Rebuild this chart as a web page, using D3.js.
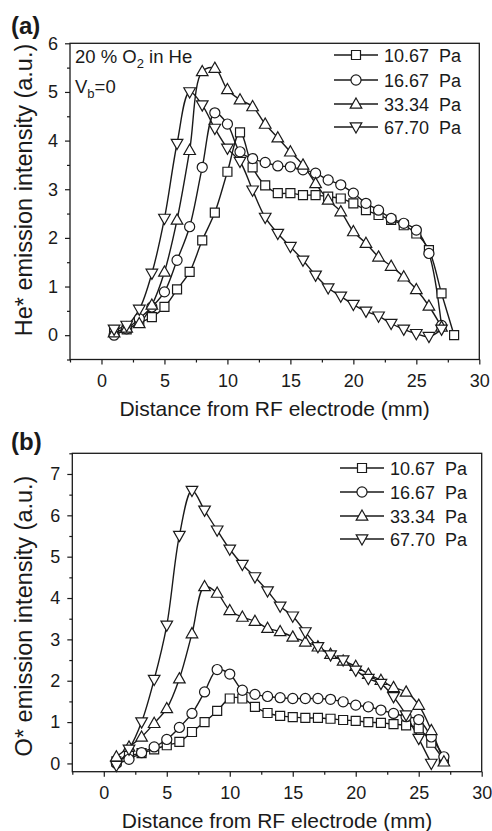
<!DOCTYPE html>
<html><head><meta charset="utf-8">
<script src="https://cdn.jsdelivr.net/npm/d3@7"></script>
<style>
body{margin:0;background:#fff;}
svg{display:block;font-family:"Liberation Sans",Arial,Helvetica,sans-serif;}
</style></head>
<body><svg id="c" width="492" height="831"></svg>
<script>
// ---------- data ----------
const seriesNames = ["10.67  Pa","16.67  Pa","33.34  Pa","67.70  Pa"];
const seriesSymbols = ["square","circle","up","down"];
const xTicks = [0,5,10,15,20,25,30];

// Panel (a): He* emission intensity
const aX_1067 = [1,2,3,4,5,6,7,8,9,10,11,12,13,14,15,16,17,18,19,20,21,22,23,24,25,26,27,28];
const aY_1067 = [0.08,0.12,0.25,0.37,0.58,0.94,1.3,1.95,2.52,3.36,4.17,3.45,3.08,2.92,2.92,2.88,2.88,2.85,2.81,2.71,2.57,2.47,2.37,2.26,2.09,1.75,0.86,0.0];
const aX_1667 = [1,2,3,4,5,6,7,8,9,10,11,12,13,14,15,16,17,18,19,20,21,22,23,24,25,26,27];
const aY_1667 = [0.0,0.13,0.34,0.58,0.89,1.54,2.23,3.45,4.57,4.34,3.77,3.63,3.55,3.48,3.46,3.4,3.33,3.19,3.09,2.92,2.71,2.57,2.4,2.3,2.16,1.68,0.2];
const aX_3334 = [1,2,3,4,5,6,7,8,9,10,11,12,13,14,15,16,17,18,19,20,21,22,23,24,25,26,27];
const aY_3334 = [0.05,0.15,0.24,0.62,1.3,2.37,3.8,5.42,5.49,5.05,4.84,4.7,4.34,4.06,3.77,3.5,3.12,2.78,2.54,2.13,1.89,1.61,1.42,1.2,0.94,0.6,0.17];
const aX_6770 = [1,2,3,4,5,6,7,8,9,10,11,12,13,14,15,16,17,18,19,20,21,22,23,24,25,26,27];
const aY_6770 = [0.12,0.2,0.53,1.27,2.4,3.94,5.0,4.73,4.25,3.84,3.57,2.98,2.42,2.09,1.82,1.54,1.23,0.97,0.8,0.63,0.49,0.39,0.24,0.12,0.03,-0.03,0.12];
const aYTicks = [0,1,2,3,4,5,6];

// Panel (b): O* emission intensity
const bX_1067 = [1,2,3,4,5,6,7,8,9,10,11,12,13,14,15,16,17,18,19,20,21,22,23,24,25,26,27];
const bY_1067 = [0.05,0.18,0.25,0.34,0.44,0.52,0.76,1.0,1.27,1.57,1.57,1.37,1.22,1.15,1.12,1.1,1.1,1.08,1.05,1.03,1.0,0.98,0.95,0.92,0.85,0.5,0.08];
const bX_1667 = [1,2,3,4,5,6,7,8,9,10,11,12,13,14,15,16,17,18,19,20,21,22,23,24,25,26,27];
const bY_1667 = [0.0,0.1,0.26,0.4,0.58,0.87,1.21,1.73,2.27,2.16,1.77,1.67,1.62,1.59,1.57,1.57,1.57,1.55,1.49,1.41,1.37,1.29,1.21,1.13,1.06,0.64,0.16];
const bX_3334 = [1,2,3,4,5,6,7,8,9,10,11,12,13,14,15,16,17,18,19,20,21,22,23,24,25,26,27];
const bY_3334 = [0.16,0.4,0.64,0.97,1.33,2.05,3.14,4.28,4.12,3.7,3.54,3.44,3.27,3.19,3.06,2.94,2.82,2.64,2.48,2.35,2.16,2.01,1.84,1.73,1.41,0.8,0.04];
const bX_6770 = [1,2,3,4,5,6,7,8,9,10,11,12,13,14,15,16,17,18,19,20,21,22,23,24,25,26];
const bY_6770 = [-0.05,0.34,1.0,2.03,3.34,5.51,6.6,6.12,5.64,5.18,4.81,4.51,4.17,3.8,3.56,3.18,2.82,2.62,2.5,2.25,2.05,1.93,1.61,1.17,0.6,0.0];
const bYTicks = [0,1,2,3,4,5,6,7];

const INK = "#1a1a1a";
const svg = d3.select("#c");

function symPath(type){
  if(type==="square") return "M-4.5,-4.5h9v9h-9z";
  if(type==="circle") return d3.symbol(d3.symbolCircle, 80)();
  if(type==="up") return "M0,-6L5.8,4.2L-5.8,4.2Z";
  return "M0,6L5.8,-4.2L-5.8,-4.2Z";
}

function panel(cfg){
  const g = svg.append("g");
  const x = d3.scaleLinear().domain([-2.5,30]).range([cfg.left,cfg.right]);
  const y = d3.scaleLinear().domain(cfg.yDom).range([cfg.bottom,cfg.top]);

  // frame
  g.append("rect").attr("x",cfg.left).attr("y",cfg.top)
    .attr("width",cfg.right-cfg.left).attr("height",cfg.bottom-cfg.top)
    .attr("fill","none").attr("stroke",INK).attr("stroke-width",1.3);

  // x axis
  const xa = g.append("g").attr("transform",`translate(0,${cfg.bottom})`)
    .call(d3.axisBottom(x).tickValues(xTicks).tickSize(5).tickPadding(10).tickFormat(d3.format("d")));
  xa.select(".domain").remove();
  xa.selectAll("line").attr("stroke",INK).attr("stroke-width",1.2);
  xa.selectAll("text").attr("font-size",18).attr("fill",INK).attr("font-family","inherit");
  const xm = g.append("g").attr("transform",`translate(0,${cfg.bottom})`)
    .call(d3.axisBottom(x).tickValues(d3.range(-2.5,30,5)).tickSize(3).tickFormat(""));
  xm.select(".domain").remove();
  xm.selectAll("line").attr("stroke",INK).attr("stroke-width",1.2);

  // y axis
  const ya = g.append("g").attr("transform",`translate(${cfg.left},0)`)
    .call(d3.axisLeft(y).tickValues(cfg.yTicks).tickSize(5).tickPadding(7).tickFormat(d3.format("d")));
  ya.select(".domain").remove();
  ya.selectAll("line").attr("stroke",INK).attr("stroke-width",1.2);
  ya.selectAll("text").attr("font-size",18).attr("fill",INK).attr("font-family","inherit");
  const minors = d3.range(cfg.yDom[0]<-0.3?-0.5:0.5, cfg.yDom[1]+0.01, 1).filter(v=>v>=cfg.yDom[0]-1e-6);
  const ym = g.append("g").attr("transform",`translate(${cfg.left},0)`)
    .call(d3.axisLeft(y).tickValues(minors).tickSize(3).tickFormat(""));
  ym.select(".domain").remove();
  ym.selectAll("line").attr("stroke",INK).attr("stroke-width",1.2);

  // axis titles
  g.append("text").attr("x",(cfg.left+cfg.right)/2).attr("y",cfg.bottom+56)
    .attr("text-anchor","middle").attr("font-size",21).attr("fill",INK)
    .text("Distance from RF electrode (mm)");
  g.append("text").attr("transform",`translate(32,${cfg.yLabelY}) rotate(-90)`)
    .attr("text-anchor","middle").attr("font-size",23.5).attr("fill",INK)
    .text(cfg.yLabel);
  g.append("text").attr("x",11).attr("y",cfg.tagY).attr("font-size",24)
    .attr("font-weight","bold").attr("fill",INK).text(cfg.tag);

  // series
  const line = d3.line().x(d=>x(d[0])).y(d=>y(d[1])).curve(d3.curveCatmullRom.alpha(0.5));
  const data = cfg.series.map(s=>d3.zip(s[0],s[1]));
  data.forEach(d=>{
    g.append("path").attr("d",line(d)).attr("fill","none").attr("stroke",INK).attr("stroke-width",1.4);
  });
  data.forEach((d,i)=>{
    g.append("g").selectAll("path").data(d).join("path")
      .attr("transform",p=>`translate(${x(p[0])},${y(p[1])})`)
      .attr("d",symPath(seriesSymbols[i]))
      .attr("fill","#fff").attr("stroke",INK).attr("stroke-width",1.2);
  });

  // legend
  seriesNames.forEach((name,i)=>{
    const ly = cfg.legY[i];
    g.append("line").attr("x1",cfg.legX).attr("x2",cfg.legX+44).attr("y1",ly).attr("y2",ly)
      .attr("stroke",INK).attr("stroke-width",1.4);
    g.append("path").attr("transform",`translate(${cfg.legX+22},${ly})`)
      .attr("d",symPath(seriesSymbols[i])).attr("fill","#fff").attr("stroke",INK).attr("stroke-width",1.2);
    g.append("text").attr("x",cfg.legX+50).attr("y",ly+6.5).attr("font-size",18).attr("fill",INK)
      .attr("xml:space","preserve").style("white-space","pre").text(name);
  });
  return g;
}

const ga = panel({left:70,right:479.3,top:43.3,bottom:359.5,yDom:[-0.5,6],yTicks:aYTicks,
  yLabel:"He* emission intensity (a.u.)",yLabelY:190,tag:"(a)",tagY:34,
  series:[[aX_1067,aY_1067],[aX_1667,aY_1667],[aX_3334,aY_3334],[aX_6770,aY_6770]],
  legX:334,legY:[55,80,104,127]});

const t1 = ga.append("text").attr("x",75).attr("y",63).attr("font-size",18.5).attr("fill",INK);
t1.append("tspan").text("20 % O");
t1.append("tspan").attr("font-size",13).attr("dy",5).text("2");
t1.append("tspan").attr("dy",-5).text(" in He");
const t2 = ga.append("text").attr("x",75).attr("y",93).attr("font-size",18.5).attr("fill",INK);
t2.append("tspan").text("V");
t2.append("tspan").attr("font-size",13).attr("dy",5).text("b");
t2.append("tspan").attr("dy",-5).text("=0");

panel({left:72.3,right:481.7,top:453.3,bottom:771.7,yDom:[-0.2,7.5],yTicks:bYTicks,
  yLabel:"O* emission intensity (a.u.)",yLabelY:616,tag:"(b)",tagY:450,
  series:[[bX_1067,bY_1067],[bX_1667,bY_1667],[bX_3334,bY_3334],[bX_6770,bY_6770]],
  legX:340,legY:[468,492,516,539]});
</script></body></html>
